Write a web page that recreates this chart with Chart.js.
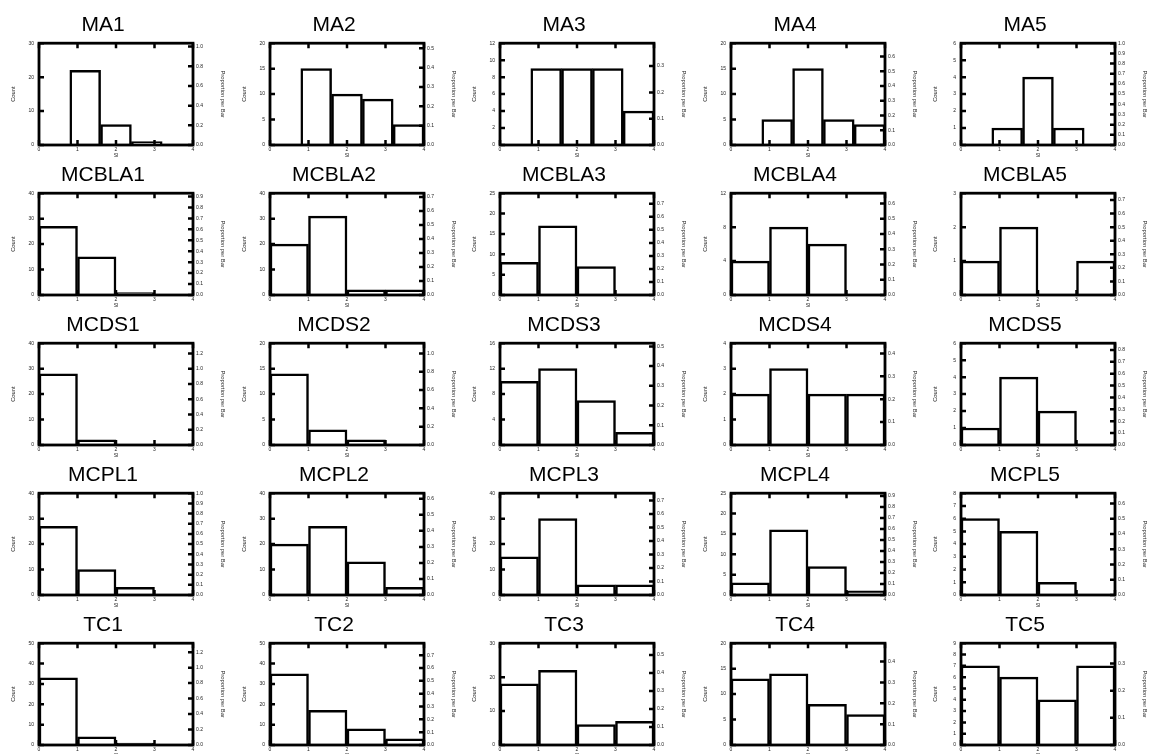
<!DOCTYPE html>
<html>
<head>
<meta charset="utf-8">
<script src="https://cdn.jsdelivr.net/npm/chart.js@4.4.0/dist/chart.umd.min.js"></script>
<style>
  html, body { margin: 0; padding: 0; background: #fff; width: 1152px; height: 754px; overflow: hidden; position: relative; }
  canvas { position: absolute; }
</style>
</head>
<body>
<script>
// ---- Data ----
const rowNames = ['MA', 'MCBLA', 'MCDS', 'MCPL', 'TC'];
const binEdgesMA = [0, 0.8, 1.6, 2.4, 3.2, 4.0];
const binEdges = [0, 1, 2, 3, 4];
const xTicks = [0, 1, 2, 3, 4];

const MA1 = [0, 22, 6, 1, 0];
const MA2 = [0, 15, 10, 9, 4];
const MA3 = [0, 9, 9, 9, 4];
const MA4 = [0, 5, 15, 5, 4];
const MA5 = [0, 1, 4, 1, 0];

const MCBLA1 = [27, 15, 1, 0];
const MCBLA2 = [20, 31, 2, 2];
const MCBLA3 = [8, 17, 7, 0];
const MCBLA4 = [4, 8, 6, 0];
const MCBLA5 = [1, 2, 0, 1];

const MCDS1 = [28, 2, 0, 0];
const MCDS2 = [14, 3, 1, 0];
const MCDS3 = [10, 12, 7, 2];
const MCDS4 = [2, 3, 2, 2];
const MCDS5 = [1, 4, 2, 0];

const MCPL1 = [27, 10, 3, 0];
const MCPL2 = [20, 27, 13, 3];
const MCPL3 = [15, 30, 4, 4];
const MCPL4 = [3, 16, 7, 1];
const MCPL5 = [6, 5, 1, 0];

const TC1 = [33, 4, 1, 0];
const TC2 = [35, 17, 8, 3];
const TC3 = [18, 22, 6, 7];
const TC4 = [13, 14, 8, 6];
const TC5 = [7, 6, 4, 7];

const panelCounts = [
  [MA1, MA2, MA3, MA4, MA5],
  [MCBLA1, MCBLA2, MCBLA3, MCBLA4, MCBLA5],
  [MCDS1, MCDS2, MCDS3, MCDS4, MCDS5],
  [MCPL1, MCPL2, MCPL3, MCPL4, MCPL5],
  [TC1, TC2, TC3, TC4, TC5]
];
// Count-axis maximum and step per panel
const countMax = [
  [30, 20, 12, 20, 6],
  [40, 40, 25, 12, 3],
  [40, 20, 16, 4, 6],
  [40, 40, 40, 25, 8],
  [50, 50, 30, 20, 9]
];
const countStep = [
  [10, 5, 2, 5, 1],
  [10, 10, 5, 4, 1],
  [10, 5, 4, 1, 1],
  [10, 10, 10, 5, 1],
  [10, 10, 10, 5, 1]
];
const propStep = [
  [0.2, 0.1, 0.1, 0.1, 0.1],
  [0.1, 0.1, 0.1, 0.1, 0.1],
  [0.2, 0.2, 0.1, 0.1, 0.1],
  [0.1, 0.1, 0.1, 0.1, 0.1],
  [0.2, 0.1, 0.1, 0.1, 0.1]
];

// ---- Layout ----
const FONT = "'Liberation Sans', Arial, Helvetica, sans-serif";
const CW = 256, CH = 161;
const AX_L = 64, AX_R = 38, AX_B = 16;

const framePlugin = {
  id: 'frame',
  afterDraw(chart) {
    const { ctx, chartArea: a, scales } = chart;
    const x = scales.x, y = scales.y, y2 = scales.y2;
    const T = 5;
    ctx.save();
    ctx.strokeStyle = '#000';
    ctx.lineWidth = 2.5;
    ctx.lineCap = 'butt';
    ctx.beginPath();
    y.ticks.forEach(t => { const p = y.getPixelForValue(t.value); ctx.moveTo(a.left, p); ctx.lineTo(a.left + T, p); });
    y2.ticks.forEach(t => { const p = y2.getPixelForValue(t.value); ctx.moveTo(a.right - T, p); ctx.lineTo(a.right, p); });
    x.ticks.forEach(t => {
      const p = x.getPixelForValue(t.value);
      ctx.moveTo(p, a.top); ctx.lineTo(p, a.top + T);
      ctx.moveTo(p, a.bottom - T); ctx.lineTo(p, a.bottom);
    });
    ctx.stroke();
    ctx.lineWidth = 2.8;
    ctx.strokeRect(a.left, a.top, a.right - a.left, a.bottom - a.top);
    ctx.restore();
  }
};

for (let r = 0; r < 5; r++) {
  for (let c = 0; c < 5; c++) {
    const counts = panelCounts[r][c];
    const edges = r === 0 ? binEdgesMA : binEdges;
    const total = counts.reduce((s, v) => s + v, 0);
    const data = counts.map((v, i) => ({ x: (edges[i] + edges[i + 1]) / 2, y: v }));

    const frameLeft = Math.round(39 + c * 230.5);
    const cv = document.createElement('canvas');
    cv.width = CW; cv.height = CH;
    cv.style.left = (frameLeft - AX_L) + 'px';
    cv.style.top = (r * 150) + 'px';
    cv.style.width = CW + 'px'; cv.style.height = CH + 'px';
    document.body.appendChild(cv);

    new Chart(cv, {
      type: 'bar',
      data: {
        datasets: [{
          data: data,
          backgroundColor: '#ffffff',
          borderColor: '#000000',
          borderWidth: 2.5,
          barPercentage: 1,
          categoryPercentage: 1
        }]
      },
      options: {
        responsive: false,
        animation: false,
        devicePixelRatio: 1,
        events: [],
        layout: { padding: 0 },
        plugins: {
          legend: { display: false },
          tooltip: { enabled: false },
          title: {
            display: true,
            text: rowNames[r] + (c + 1),
            color: '#000',
            font: { family: FONT, size: 21, weight: 'normal' },
            padding: { top: 13, bottom: 5 }
          }
        },
        scales: {
          x: {
            type: 'linear',
            position: 'bottom',
            min: 0, max: 4,
            offset: false,
            grid: { display: false, drawTicks: false, offset: false },
            border: { display: false },
            ticks: {
              stepSize: 1, autoSkip: false, maxRotation: 0, padding: 2,
              color: '#222', font: { family: FONT, size: 5 },
              callback: v => String(v)
            },
            title: { display: true, text: 'SI', color: '#222', font: { family: FONT, size: 5 }, padding: { top: 0, bottom: 2.5 } },
            afterFit(s) { s.height = AX_B; }
          },
          y: {
            type: 'linear',
            position: 'left',
            min: 0, max: countMax[r][c],
            grid: { display: false, drawTicks: false },
            border: { display: false },
            ticks: {
              stepSize: countStep[r][c], autoSkip: false, padding: 5,
              color: '#222', font: { family: FONT, size: 5 },
              callback: v => String(v)
            },
            title: { display: true, text: 'Count', color: '#222', font: { family: FONT, size: 5.8 }, padding: { top: 35, bottom: 0 } },
            afterFit(s) { s.width = AX_L; }
          },
          y2: {
            type: 'linear',
            position: 'right',
            min: 0, max: countMax[r][c] / total,
            grid: { display: false, drawTicks: false },
            border: { display: false },
            ticks: {
              stepSize: propStep[r][c], includeBounds: false, autoSkip: false, padding: 3,
              color: '#222', font: { family: FONT, size: 5 },
              callback: v => v.toFixed(1)
            },
            title: { display: true, text: 'Proportion per Bar', color: '#222', font: { family: FONT, size: 5.8 }, padding: { top: 5, bottom: 0 } },
            afterFit(s) { s.width = AX_R; }
          }
        }
      },
      plugins: [framePlugin]
    });
  }
}
</script>
</body>
</html>
